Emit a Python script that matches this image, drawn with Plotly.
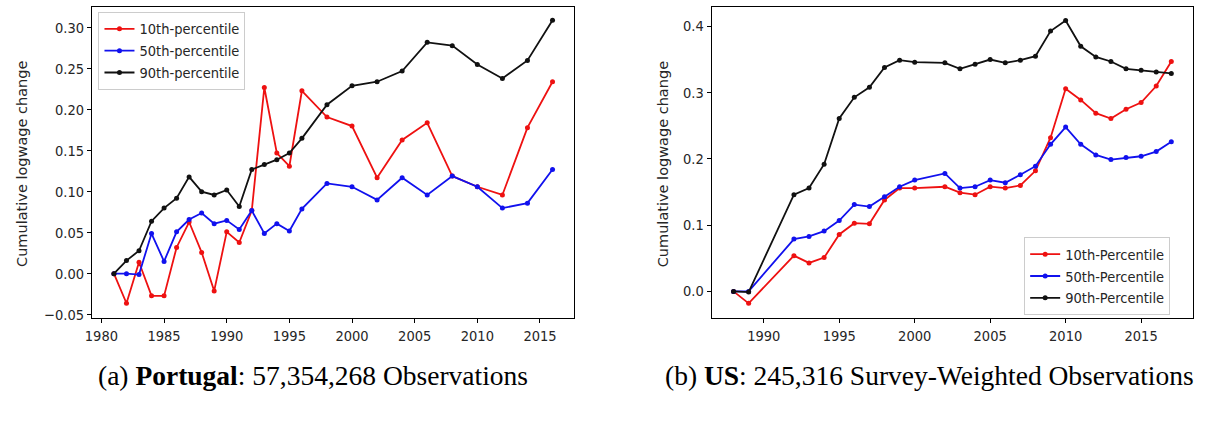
import plotly.graph_objects as go

# ---- Portugal data ----
pt_years = [1981, 1982, 1983, 1984, 1985, 1986, 1987, 1988, 1989, 1990, 1991, 1992,
            1993, 1994, 1995, 1996, 1998, 2000, 2002, 2004, 2006, 2008, 2010, 2012,
            2014, 2016]
pt_p10 = [0.000, -0.036, 0.014, -0.027, -0.027, 0.032, 0.063, 0.026, -0.021, 0.051,
          0.038, 0.077, 0.227, 0.147, 0.131, 0.223, 0.191, 0.180, 0.117, 0.163,
          0.184, 0.119, 0.106, 0.096, 0.178, 0.234]
pt_p50 = [0.000, 0.000, -0.001, 0.049, 0.015, 0.051, 0.066, 0.074, 0.061, 0.065,
          0.054, 0.077, 0.049, 0.061, 0.052, 0.079, 0.110, 0.106, 0.090, 0.117,
          0.096, 0.119, 0.106, 0.080, 0.086, 0.127]
pt_p90 = [0.000, 0.016, 0.028, 0.064, 0.080, 0.092, 0.118, 0.100, 0.096, 0.102,
          0.082, 0.127, 0.133, 0.139, 0.147, 0.165, 0.206, 0.229, 0.234, 0.247,
          0.282, 0.278, 0.255, 0.238, 0.260, 0.309]

# ---- US data ----
us_years = [1988, 1989, 1992, 1993, 1994, 1995, 1996, 1997, 1998, 1999, 2000, 2002,
            2003, 2004, 2005, 2006, 2007, 2008, 2009, 2010, 2011, 2012, 2013, 2014,
            2015, 2016, 2017]
us_p10 = [0.000, -0.018, 0.054, 0.043, 0.051, 0.086, 0.103, 0.102, 0.138, 0.156,
          0.156, 0.158, 0.149, 0.146, 0.158, 0.156, 0.160, 0.182, 0.232, 0.306,
          0.289, 0.269, 0.261, 0.275, 0.285, 0.310, 0.347]
us_p50 = [0.000, 0.000, 0.079, 0.083, 0.091, 0.107, 0.131, 0.128, 0.143, 0.158,
          0.168, 0.178, 0.156, 0.158, 0.168, 0.164, 0.176, 0.189, 0.222, 0.248,
          0.222, 0.206, 0.199, 0.202, 0.204, 0.211, 0.226]
us_p90 = [0.000, -0.001, 0.146, 0.156, 0.192, 0.261, 0.293, 0.308, 0.338, 0.349,
          0.346, 0.345, 0.336, 0.343, 0.350, 0.345, 0.349, 0.355, 0.393, 0.409,
          0.370, 0.354, 0.347, 0.336, 0.334, 0.331, 0.329]

pt_names = ["10th-percentile", "50th-percentile", "90th-percentile"]
us_names = ["10th-Percentile", "50th-Percentile", "90th-Percentile"]
colors = ["#ee1111", "#1111ee", "#111111"]

W, H = 1228, 421
FONT = "DejaVu Sans Condensed, DejaVu Sans"
TXT = "#262626"

fig = go.Figure()
for name, ys, c in zip(pt_names, [pt_p10, pt_p50, pt_p90], colors):
    fig.add_trace(go.Scatter(x=pt_years, y=ys, name=name, mode="lines+markers",
                             line=dict(color=c, width=1.8),
                             marker=dict(color=c, size=5),
                             xaxis="x", yaxis="y", legend="legend"))
for name, ys, c in zip(us_names, [us_p10, us_p50, us_p90], colors):
    fig.add_trace(go.Scatter(x=us_years, y=ys, name=name, mode="lines+markers",
                             line=dict(color=c, width=1.8),
                             marker=dict(color=c, size=5),
                             xaxis="x2", yaxis="y2", legend="legend2"))

axis_common = dict(showline=True, mirror=True, linecolor="black", linewidth=1,
                   ticks="outside", ticklen=4, tickcolor="black", showgrid=False,
                   zeroline=False, tickfont=dict(family=FONT, size=14.5, color=TXT))

ydom = [(H - 322) / H, (H - 7) / H]

fig.update_layout(
    width=W, height=H,
    margin=dict(l=0, r=0, t=0, b=0),
    paper_bgcolor="white", plot_bgcolor="white",
    xaxis=dict(domain=[85.5 / W, 570.7 / W], range=[1979.25, 2017.75],
               tickvals=[1980, 1985, 1990, 1995, 2000, 2005, 2010, 2015], anchor="y",
               **axis_common),
    yaxis=dict(domain=ydom, range=[-0.0542, 0.3252],
               tickvals=[-0.05, 0, 0.05, 0.10, 0.15, 0.20, 0.25, 0.30],
               tickformat=".2f", anchor="x", **axis_common),
    xaxis2=dict(domain=[708.7 / W, 1193 / W], range=[1986.55, 2018.45],
                tickvals=[1990, 1995, 2000, 2005, 2010, 2015], anchor="y2",
                **axis_common),
    yaxis2=dict(domain=ydom, range=[-0.0404, 0.4294],
                tickvals=[0, 0.1, 0.2, 0.3, 0.4], tickformat=".1f", anchor="x2",
                **axis_common),
    legend=dict(x=92 / W, y=(H - 12) / H, xanchor="left", yanchor="top",
                bgcolor="rgba(255,255,255,0.8)", bordercolor="#cccccc", borderwidth=1,
                font=dict(family=FONT, size=14.5, color=TXT), itemwidth=30,
                tracegroupgap=0),
    legend2=dict(x=1023 / W, y=(H - 319) / H, xanchor="left", yanchor="bottom",
                 bgcolor="rgba(255,255,255,0.8)", bordercolor="#cccccc", borderwidth=1,
                 font=dict(family=FONT, size=14.5, color=TXT), itemwidth=30,
                 tracegroupgap=0),
    showlegend=True,
)

annots = [
    dict(text="Cumulative logwage change", x=15 / W, y=(H - 166) / H, textangle=-90,
         font=dict(family="DejaVu Sans", size=14.5, color=TXT)),
    dict(text="Cumulative logwage change", x=660 / W, y=(H - 166) / H, textangle=-90,
         font=dict(family="DejaVu Sans", size=14.5, color=TXT)),
    dict(text="(a) <b>Portugal</b>: 57,354,268 Observations", x=308 / W, y=(H - 380) / H,
         font=dict(family="Liberation Serif", size=27.5, color="black")),
    dict(text="(b) <b>US</b>: 245,316 Survey-Weighted Observations", x=928 / W,
         y=(H - 380) / H, font=dict(family="Liberation Serif", size=27.5, color="black")),
]
for a in annots:
    a.update(xref="paper", yref="paper", showarrow=False, xanchor="center",
             yanchor="middle")
fig.update_layout(annotations=annots)

fig.write_html("out.html", config={"displayModeBar": False},
               post_script="document.body.style.margin='0px';document.body.style.overflow='hidden';")
